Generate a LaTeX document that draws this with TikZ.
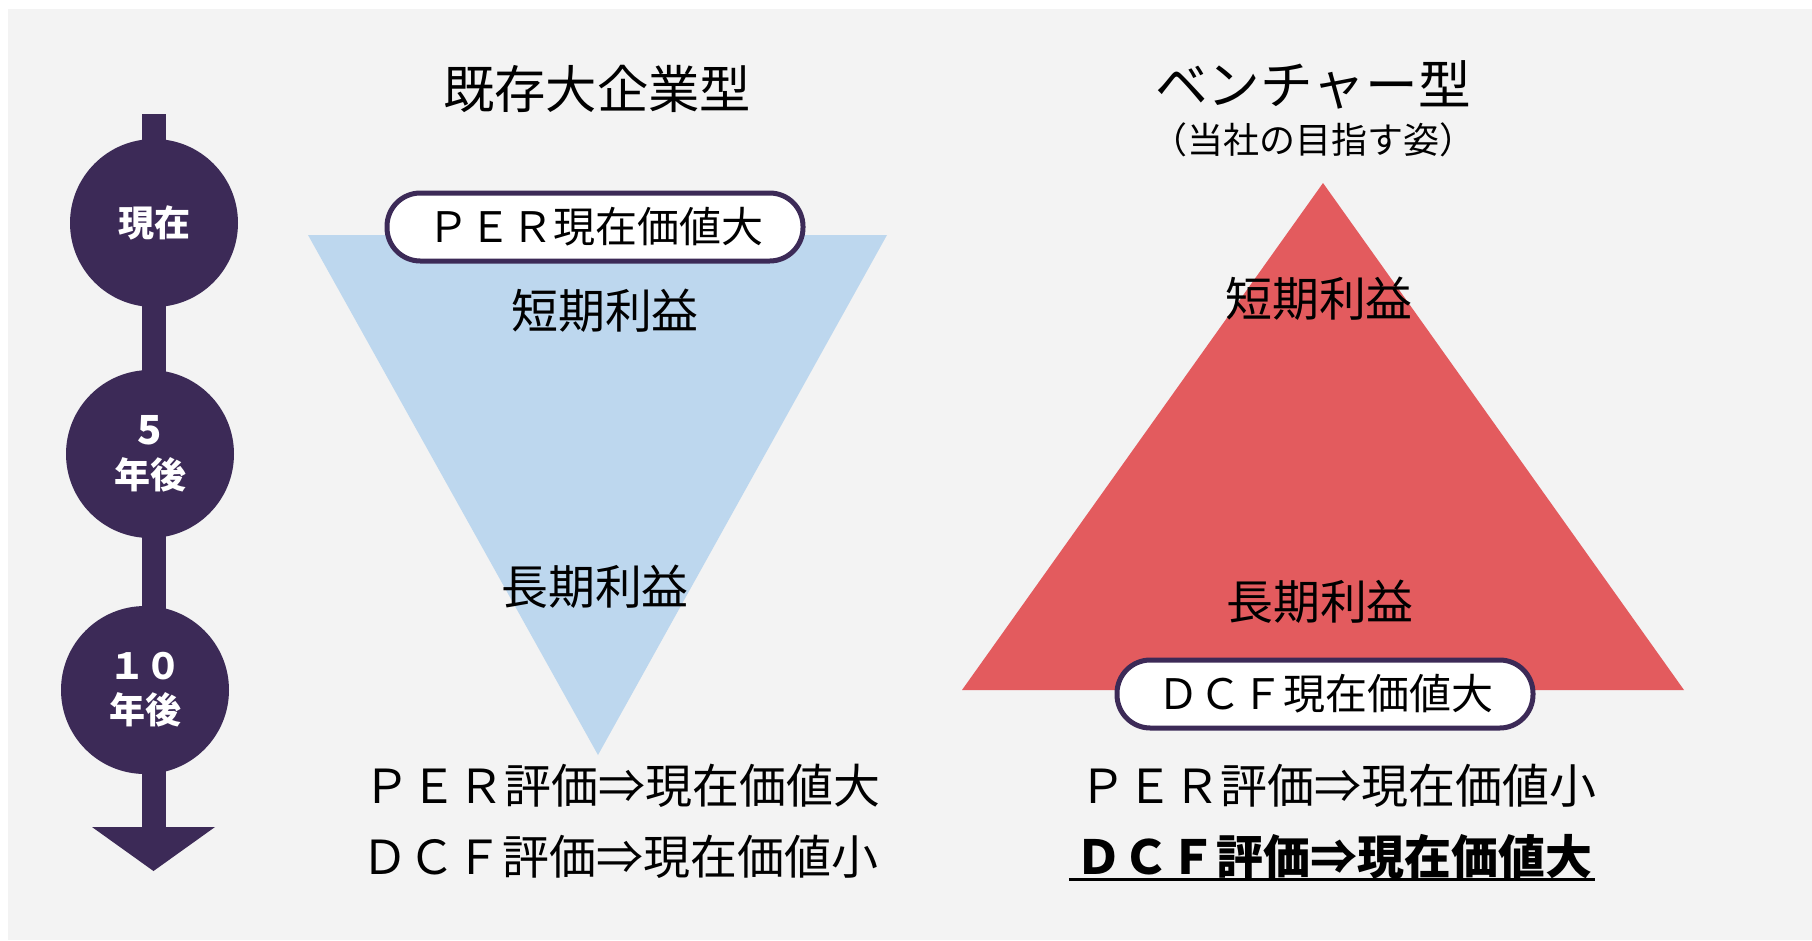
\documentclass[tikz,border=0pt]{standalone}
\usepackage{fontspec}
\setmainfont{Noto Sans CJK JP}
\definecolor{tl}{HTML}{3C2A57}
\definecolor{bluetri}{HTML}{BDD7EE}
\definecolor{redtri}{HTML}{E35B5E}
\definecolor{bgc}{HTML}{F3F3F3}
\begin{document}
\begin{tikzpicture}[x=0.75pt,y=-0.75pt,
  tlcirc/.style={circle, fill=tl, inner sep=0, minimum size=126pt, text=white, align=center,
    font=\bfseries\fontsize{27}{33}\selectfont},
  pill/.style={rectangle, rounded corners=25pt, draw=tl, line width=3.75pt, fill=white,
    minimum width=312pt, minimum height=51pt, inner sep=0, font=\fontsize{31.5}{36}\selectfont},
  lbl/.style={inner sep=0, font=\fontsize{35.2}{42}\selectfont},
  ttl/.style={inner sep=0, font=\fontsize{38.5}{46}\selectfont},
  sub/.style={inner sep=0, font=\fontsize{27}{32}\selectfont}]
\useasboundingbox (0,0) rectangle (1812,940);
\fill[white] (0,0) rectangle (1812,940);
\fill[bgc] (8,9) rectangle (1812,940);

% timeline
\coordinate (stemtop) at (153.5,114);
\coordinate (stembot) at (153.5,829);
\coordinate (arrL) at (92,827);
\coordinate (arrR) at (215,827);
\coordinate (arrT) at (153.5,871);
\draw[tl, line width=18pt] (stemtop) -- (stembot);
\fill[tl] (arrL) -- (arrR) -- (arrT) -- cycle;
\node[tlcirc] (c1) at (154,223) {現在};
\node[tlcirc] (c2) at (150,454) {{\fontsize{30}{33}\selectfont 5}\\年後};
\node[tlcirc] (c3) at (145,690) {１０\\年後};

% left: established large company
\node[ttl] (lt) at (597,89) {既存大企業型};
\fill[bluetri] (308,235) -- (887,235) -- (598,755) -- cycle;
\node[pill] (perpill) at (595,227) {ＰＥＲ現在価値大};
\node[lbl] (ls) at (605,311) {短期利益};
\node[lbl] (ll) at (595,587) {長期利益};
\node[lbl] (lper) at (622,786) {ＰＥＲ評価⇒現在価値大};
\node[lbl] (ldcf) at (620,857) {ＤＣＦ評価⇒現在価値小};

% right: venture
\node[ttl, font=\fontsize{39.5}{46}\selectfont] (rt) at (1313,85) {ベンチャー型};
\node[sub] (rsub) at (1313,140) {（当社の目指す姿）};
\fill[redtri] (1323,183) -- (1684,690) -- (962,690) -- cycle;
\node[lbl] (rs) at (1319,299) {短期利益};
\node[lbl] (rl) at (1320,602) {長期利益};
\node[pill] (dcfpill) at (1325,694) {ＤＣＦ現在価値大};
\node[lbl] (rper) at (1338,786) {ＰＥＲ評価⇒現在価値小};
\node[lbl, font=\bfseries\fontsize{35.2}{42}\selectfont] (rdcf) at (1334,857) {ＤＣＦ評価⇒現在価値大};
\draw[line width=2.2pt] ([xshift=-5pt]rdcf.south west) -- ([xshift=2pt]rdcf.south east);
\end{tikzpicture}
\end{document}
